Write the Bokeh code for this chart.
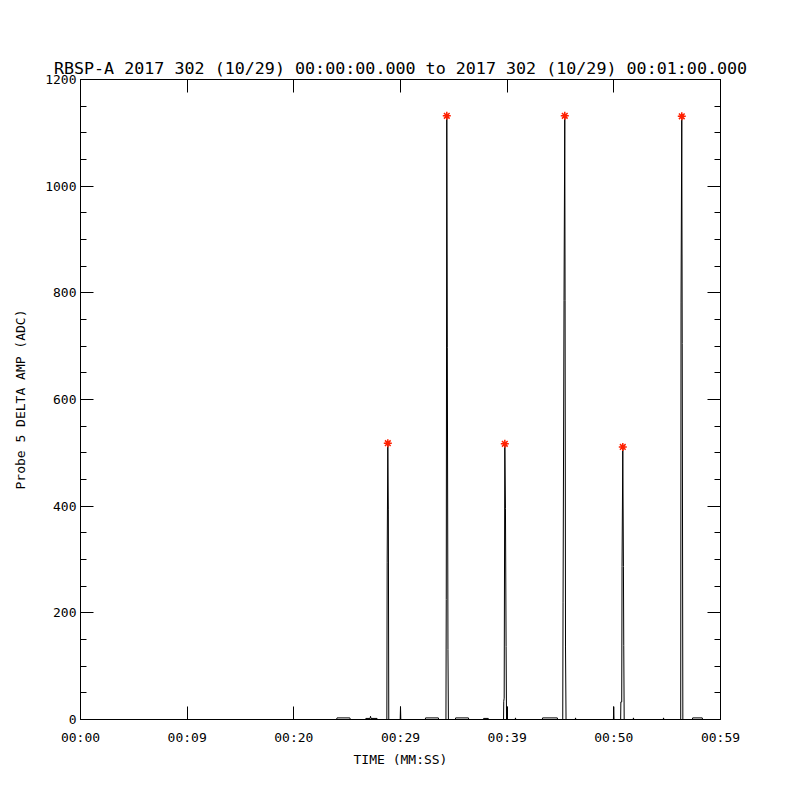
from bokeh.plotting import figure
from bokeh.models import Range1d, FixedTicker, LinearAxis, CustomJSTickFormatter
from bokeh.embed import file_html
from bokeh.resources import INLINE

# ---- data (time in seconds after 00:00:00, amplitude in ADC) ----
time_s = [0.0,
          24.00, 24.05, 25.25, 25.30,
          26.70, 26.75, 27.15, 27.19, 27.23, 27.80, 27.85,
          28.72, 28.75, 28.81, 28.86, 28.90,
          29.97, 30.00, 30.03,
          32.32, 32.35, 33.55, 33.58,
          34.26, 34.29, 34.34, 34.39, 34.45, 34.49,
          35.14, 35.17, 36.37, 36.40,
          37.76, 37.79, 38.23, 38.26,
          39.66, 39.68, 39.72, 39.78, 39.84, 39.90, 39.94, 39.98, 40.02,
          40.75, 40.78, 40.81,
          43.29, 43.32, 44.70, 44.73,
          45.21, 45.24, 45.33, 45.40, 45.43, 45.47, 45.52,
          46.38, 46.41, 46.44,
          49.96, 49.99, 50.02,
          50.64, 50.66, 50.74, 50.77, 50.84, 50.90, 50.93, 50.97,
          51.81, 51.84, 51.87,
          54.63, 54.66, 54.69,
          56.27, 56.30, 56.37, 56.41, 56.47,
          57.36, 57.39, 58.29, 58.32,
          60.0]
amp_adc = [0,
           0, 3, 3, 0,
           0, 2, 2, 6, 2, 2, 0,
           0, 295, 518, 393, 0,
           0, 24, 0,
           0, 3, 3, 0,
           0, 225, 1132, 698, 131, 0,
           0, 3, 3, 0,
           0, 2, 2, 0,
           0, 34, 40, 517, 396, 137, 0, 24, 0,
           0, 3, 0,
           0, 3, 3, 0,
           0, 220, 786, 1132, 786, 136, 0,
           0, 3, 0,
           0, 24, 0,
           0, 33, 33, 287, 511, 287, 139, 0,
           0, 3, 0,
           0, 3, 0,
           0, 781, 1131, 705, 0,
           0, 3, 3, 0,
           0]

peak_time_s = [28.81, 34.34, 39.78, 45.40, 50.84, 56.37]
peak_amp_adc = [518, 1132, 517, 1132, 511, 1131]

x_ticks = [0, 10, 20, 30, 40, 50, 60]
x_tick_labels = ["00:00", "00:09", "00:20", "00:29", "00:39", "00:50", "00:59"]
y_ticks = [0, 200, 400, 600, 800, 1000, 1200]
y_minor_ticks = [v for v in range(0, 1201, 50) if v % 200 != 0]

title_text = "RBSP-A 2017 302 (10/29) 00:00:00.000 to 2017 302 (10/29) 00:01:00.000"
FONT = "DejaVu Sans Mono"

p = figure(frame_width=640, frame_height=640,
           x_range=Range1d(0, 60), y_range=Range1d(0, 1200),
           output_backend="svg", toolbar_location=None,
           min_border_left=80, min_border_right=72,
           min_border_top=79, min_border_bottom=73,
           background_fill_color="white", border_fill_color="white")
p.grid.visible = False
p.outline_line_color = "black"
p.outline_line_width = 1

p.title.text = title_text
p.title.text_font = FONT
p.title.text_font_size = "16.7px"
p.title.text_font_style = "normal"
p.title.align = "center"
p.title.text_color = "black"
p.title.standoff = 4

xt = FixedTicker(ticks=x_ticks)
yt = FixedTicker(ticks=y_ticks, minor_ticks=y_minor_ticks)

xa = p.xaxis[0]
xa.ticker = xt
xa.major_label_overrides = {t: l for t, l in zip(x_ticks, x_tick_labels)}
xa.axis_label = "TIME (MM:SS)"

ya = p.yaxis[0]
ya.ticker = yt
ya.axis_label = "Probe 5 DELTA AMP (ADC)"

for ax, minor in ((xa, False), (ya, True)):
    ax.major_tick_in = 13
    ax.major_tick_out = 0
    ax.minor_tick_in = 6 if minor else 0
    ax.minor_tick_out = 0
    ax.axis_line_color = "black"
    ax.major_tick_line_color = "black"
    ax.minor_tick_line_color = "black" if minor else None
    ax.major_label_text_font = FONT
    ax.major_label_text_font_size = "13px"
    ax.major_label_text_color = "black"
    ax.axis_label_text_font = FONT
    ax.axis_label_text_font_size = "13px"
    ax.axis_label_text_font_style = "normal"
    ax.axis_label_text_color = "black"

xa.major_label_standoff = 10
xa.axis_label_standoff = 4
ya.major_label_standoff = 4
ya.axis_label_standoff = 14

blank = CustomJSTickFormatter(code="return ''")
top = LinearAxis(ticker=xt, formatter=blank)
right = LinearAxis(ticker=yt, formatter=blank)
for ax, minor in ((top, False), (right, True)):
    ax.major_tick_in = 13
    ax.major_tick_out = 0
    ax.minor_tick_in = 6 if minor else 0
    ax.minor_tick_out = 0
    ax.major_label_standoff = 0
    ax.major_label_text_font_size = "1px"
    ax.minor_tick_line_color = "black" if minor else None
p.add_layout(top, "above")
p.add_layout(right, "right")

p.line(time_s, amp_adc, line_color="black", line_width=1)
p.scatter(peak_time_s, peak_amp_adc, marker="asterisk", size=8,
          line_color="#ff2000", line_width=1.5)

open("out.html", "w").write(file_html(p, INLINE))
